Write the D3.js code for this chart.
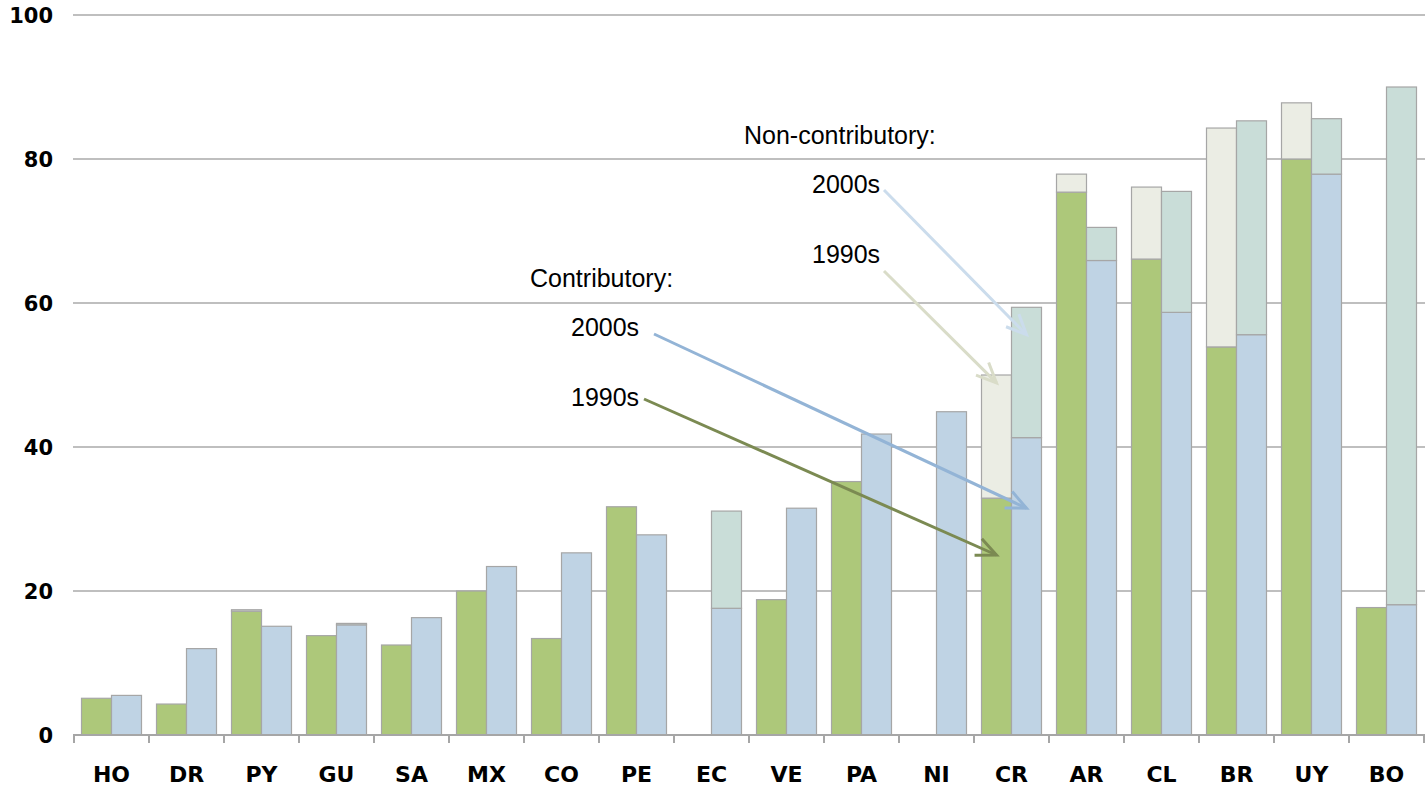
<!DOCTYPE html>
<html>
<head>
<meta charset="utf-8">
<script src="https://cdn.jsdelivr.net/npm/d3@7"></script>
<style>
  body { margin: 0; background: #fff; }
  .axis-label { font-family: "DejaVu Sans", sans-serif; font-weight: bold; font-size: 21px; fill: #000; }
  .note { font-family: "Liberation Sans", Arial, sans-serif; font-size: 25px; fill: #000; }
</style>
</head>
<body>
<div class="chart"></div>
<script>
// countries, ordered as in the figure
const countries = ["HO", "DR", "PY", "GU", "SA", "MX", "CO", "PE", "EC", "VE", "PA", "NI", "CR", "AR", "CL", "BR", "UY", "BO"]
const decades = ["1990s", "2000s"]

// coverage (%)
const contrib1990 = [5.1, 4.3, 17.2, 13.8, 12.5, 20.0, 13.4, 31.7, 0, 18.8, 35.2, 0, 32.9, 75.4, 66.1, 53.9, 80.0, 17.7]
const noncontrib1990 = [0, 0, 0.2, 0, 0, 0, 0, 0, 0, 0, 0, 0, 17.1, 2.5, 10.0, 30.4, 7.8, 0]
const contrib2000 = [5.5, 12.0, 15.1, 15.3, 16.3, 23.4, 25.3, 27.8, 17.6, 31.5, 41.8, 44.9, 41.3, 65.9, 58.7, 55.6, 77.9, 18.1]
const noncontrib2000 = [0, 0, 0, 0.2, 0, 0, 0, 0, 13.5, 0, 0, 0, 18.1, 4.6, 16.8, 29.7, 7.7, 71.9]

const yTicks = [0, 20, 40, 60, 80, 100]

const width = 1425
const height = 791
const margin = { top: 15, right: 1, bottom: 56, left: 74 }

const svg = d3.select(".chart").append("svg")
  .attr("width", width)
  .attr("height", height)

const x = d3.scaleBand()
  .domain(countries)
  .range([margin.left, width - margin.right])
  .paddingInner(0.2)
  .paddingOuter(0.1)

const xDecade = d3.scaleBand()
  .domain(decades)
  .range([0, x.bandwidth()])

const y = d3.scaleLinear()
  .domain([0, 100])
  .range([height - margin.bottom, margin.top])

const colors = {
  "1990s": ["#adc87a", "#ebede4"],
  "2000s": ["#bfd3e4", "#c9ddd8"]
}

// gridlines
svg.append("g")
  .selectAll("line")
  .data(yTicks.filter(d => d > 0))
  .enter().append("line")
  .attr("x1", margin.left - 1)
  .attr("x2", width)
  .attr("y1", d => y(d))
  .attr("y2", d => y(d))
  .attr("stroke", "#bfbfbf")
  .attr("stroke-width", 2)

// stacked segments: contributory at the bottom, non-contributory on top
const segments = []
countries.forEach((c, i) => {
  const series = [
    ["1990s", contrib1990[i], noncontrib1990[i]],
    ["2000s", contrib2000[i], noncontrib2000[i]]
  ]
  series.forEach(([dec, a, b]) => {
    if (a > 0) segments.push({ country: c, decade: dec, y0: 0, y1: a, fill: colors[dec][0] })
    if (b > 0) segments.push({ country: c, decade: dec, y0: a, y1: a + b, fill: colors[dec][1] })
  })
})

svg.append("g")
  .selectAll("rect")
  .data(segments)
  .enter().append("rect")
  .attr("x", d => x(d.country) + xDecade(d.decade))
  .attr("width", xDecade.bandwidth())
  .attr("y", d => y(d.y1))
  .attr("height", d => y(d.y0) - y(d.y1))
  .attr("fill", d => d.fill)
  .attr("stroke", "#a6a6a6")
  .attr("stroke-width", 1.2)

// x axis line and ticks between categories
const xAxis = svg.append("g")
xAxis.append("line")
  .attr("x1", margin.left - 1)
  .attr("x2", width)
  .attr("y1", y(0))
  .attr("y2", y(0))
  .attr("stroke", "#a6a6a6")
  .attr("stroke-width", 2)

const boundaries = countries.map(c => x(c) - x.step() * x.paddingInner() / 2)
boundaries.push(width - margin.right)
xAxis.selectAll(".tick")
  .data(boundaries)
  .enter().append("line")
  .attr("class", "tick")
  .attr("x1", d => d)
  .attr("x2", d => d)
  .attr("y1", y(0))
  .attr("y2", y(0) + 8)
  .attr("stroke", "#a6a6a6")
  .attr("stroke-width", 2)

xAxis.selectAll("text")
  .data(countries)
  .enter().append("text")
  .attr("class", "axis-label")
  .style("font-size", "22px")
  .attr("x", d => x(d) + x.bandwidth() / 2)
  .attr("y", y(0) + 47)
  .attr("text-anchor", "middle")
  .text(d => d)

svg.append("g")
  .selectAll("text")
  .data(yTicks)
  .enter().append("text")
  .attr("class", "axis-label")
  .attr("x", 53)
  .attr("y", d => y(d) + 7.5)
  .attr("text-anchor", "end")
  .text(d => d)

// annotations
const notes = [
  { text: "Non-contributory:", x: 744, y: 144 },
  { text: "Contributory:", x: 530, y: 287 }
]
svg.append("g")
  .selectAll("text")
  .data(notes)
  .enter().append("text")
  .attr("class", "note")
  .attr("x", d => d.x)
  .attr("y", d => d.y)
  .text(d => d.text)

// arrows point at the Costa Rica bars
const arrows = [
  { label: "2000s", tx: 812, ty: 193, sx: 884, sy: 190, country: "CR", decade: "2000s", value: 55.6, color: "#cbdcec" },
  { label: "1990s", tx: 812, ty: 263, sx: 884, sy: 271, country: "CR", decade: "1990s", value: 48.9, color: "#d9dcc8" },
  { label: "2000s", tx: 571, ty: 336, sx: 654, sy: 334, country: "CR", decade: "2000s", value: 31.5, color: "#93b4d6" },
  { label: "1990s", tx: 571, ty: 406, sx: 644, sy: 399, country: "CR", decade: "1990s", value: 25.0, color: "#7b8a52" }
]

const defs = svg.append("defs")
arrows.forEach((a, i) => {
  defs.append("marker")
    .attr("id", "head" + i)
    .attr("markerUnits", "userSpaceOnUse")
    .attr("viewBox", "-22 -12 26 24")
    .attr("refX", 0)
    .attr("refY", 0)
    .attr("markerWidth", 26)
    .attr("markerHeight", 24)
    .attr("orient", "auto")
    .append("path")
    .attr("d", "M-20,-9 L0,0 L-20,9")
    .attr("fill", "none")
    .attr("stroke", a.color)
    .attr("stroke-width", 3)
})

const arrowG = svg.append("g")
arrowG.selectAll("line")
  .data(arrows)
  .enter().append("line")
  .attr("x1", d => d.sx)
  .attr("y1", d => d.sy)
  .attr("x2", d => x(d.country) + xDecade(d.decade) + xDecade.bandwidth() / 2)
  .attr("y2", d => y(d.value))
  .attr("stroke", d => d.color)
  .attr("stroke-width", 3)
  .attr("marker-end", (d, i) => "url(#head" + i + ")")

arrowG.selectAll("text")
  .data(arrows)
  .enter().append("text")
  .attr("class", "note")
  .attr("x", d => d.tx)
  .attr("y", d => d.ty)
  .text(d => d.label)
</script>
</body>
</html>
